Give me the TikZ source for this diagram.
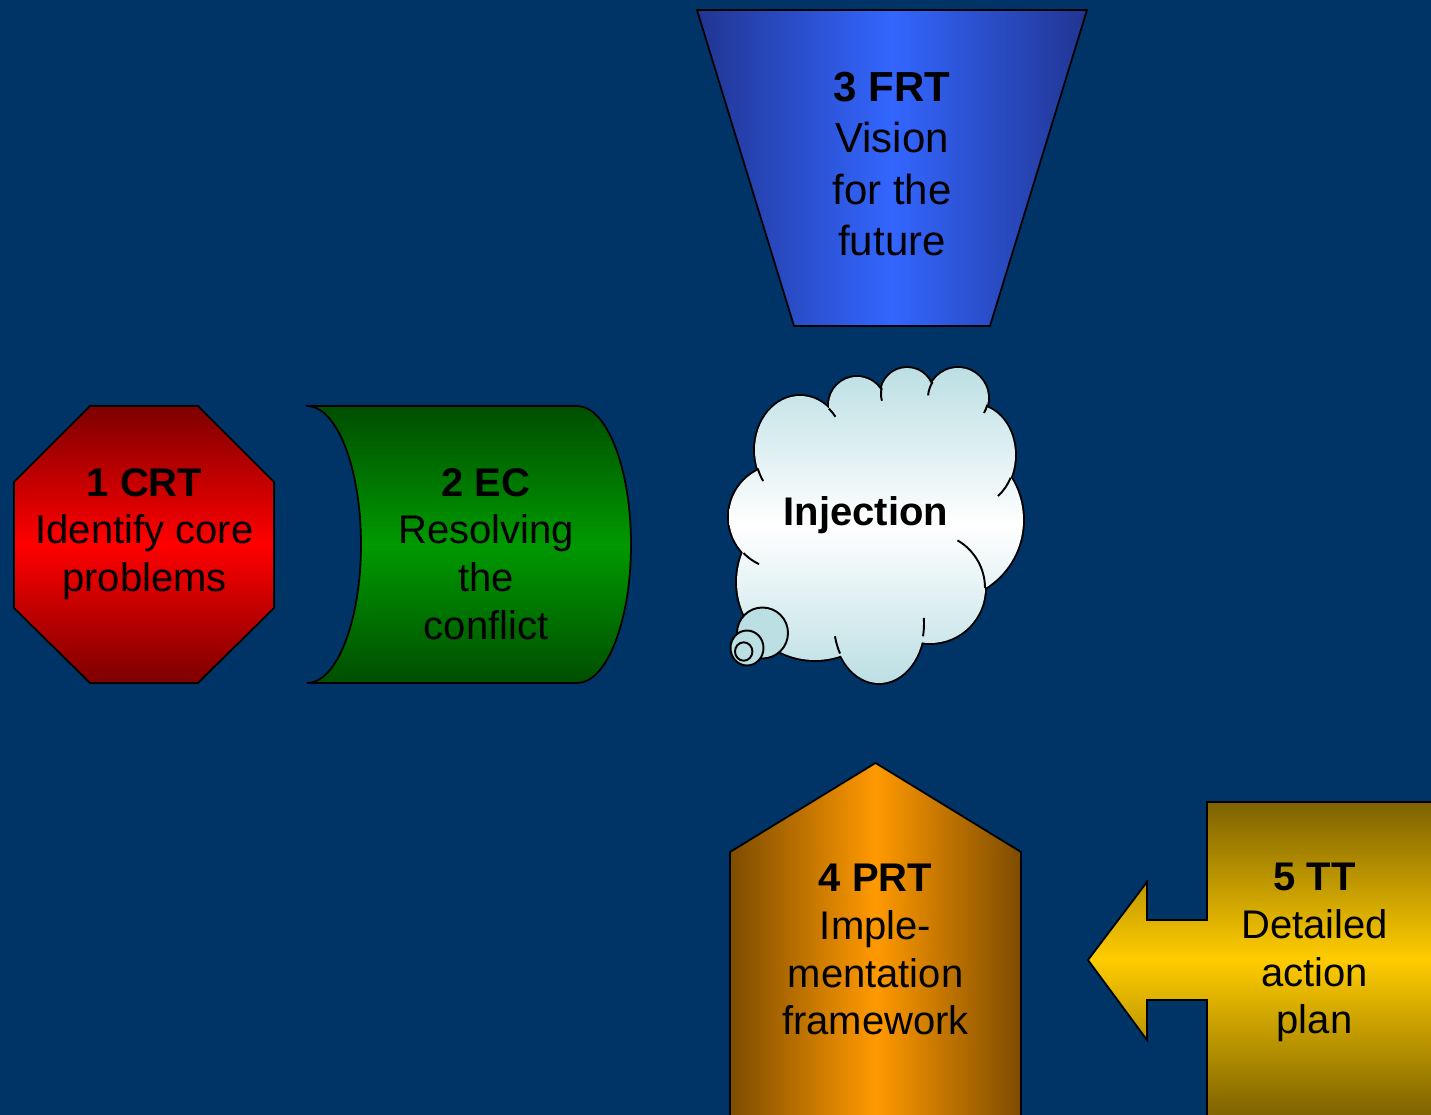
\documentclass[tikz,border=0pt]{standalone}
\usepackage{fontspec}
\setmainfont{Liberation Sans}
\usepackage{tikz}
\usetikzlibrary{calc}

\definecolor{slidebg}{RGB}{0,51,102}
\definecolor{crtdark}{RGB}{125,0,0}
\definecolor{crtred}{RGB}{255,0,0}
\definecolor{ecdark}{RGB}{0,78,0}
\definecolor{ecgreen}{RGB}{0,153,0}
\definecolor{frtdark}{RGB}{33,53,145}
\definecolor{frtblue}{RGB}{51,102,255}
\definecolor{prtdark}{RGB}{125,76,0}
\definecolor{prtorange}{RGB}{255,153,0}
\definecolor{ttdark}{RGB}{125,98,0}
\definecolor{ttyellow}{RGB}{255,204,0}
\definecolor{cloudblue}{RGB}{188,223,228}

% lobes of the thought cloud (pixel units)
\def\cloudlobes{(781,517) circle[radius=52]
  (800,450) ellipse[x radius=45, y radius=54]
  (857,405) circle[radius=28]
  (907,394) circle[radius=26]
  (958,398) circle[radius=30]
  (975,455) ellipse[x radius=40, y radius=50]
  (943,520) circle[radius=80]
  (930,588) circle[radius=55]
  (879,624) ellipse[x radius=45, y radius=59]
  (815,582) circle[radius=78]
  (890,470) ellipse[x radius=90, y radius=75]}

\begin{document}
\begin{tikzpicture}[x=0.02cm, y=-0.02cm,
    shapeline/.style={draw=black, line width=1pt, line join=miter},
    boxtext/.style={font=\fontsize{22.76}{27.1}\selectfont, align=center,
      inner sep=0pt, anchor=north, text=black}]

    % Slide background
    \fill[slidebg] (0,0) rectangle (1431,1115);
    \useasboundingbox (0,0) rectangle (1431,1115);
    \clip (0,0) rectangle (1431,1115);

    % 1 CRT: octagon
    \shade[shapeline, top color=crtdark, bottom color=crtdark, middle color=crtred]
        (90,406) -- (198,406) -- (274,482) -- (274,608) -- (198,683)
        -- (90,683) -- (14,608) -- (14,482) -- cycle;
    \node[boxtext] (crt) at (144.5,468) {\textbf{1 CRT}\\Identify core\\problems};

    % 2 EC: stored data shape, concave on the left
    \shade[shapeline, top color=ecdark, bottom color=ecdark, middle color=ecgreen]
        (307,406) -- (577,406)
        arc[start angle=-90, end angle=90, x radius=54, y radius=138.5]
        -- (307,683)
        arc[start angle=90, end angle=-90, x radius=54, y radius=138.5]
        -- cycle;
    \node[boxtext] (ec) at (486,468) {\textbf{2 EC}\\Resolving\\the\\conflict};

    % 3 FRT: trapezoid
    \shade[shapeline, left color=frtdark, right color=frtdark, middle color=frtblue]
        (697,10) -- (1087,10) -- (990,326) -- (794,326) -- cycle;
    \node[boxtext, font=\fontsize{23.9}{29.2}\selectfont] (frt) at (892,72)
        {\textbf{3 FRT}\\Vision\\for the\\future};

    % Injection: cloud, outline drawn under the fill
    \draw[line width=2.2pt] \cloudlobes;
    \shade[top color=cloudblue, bottom color=cloudblue, middle color=white] \cloudlobes;
    % inner arcs of the lobes
    \draw[line width=1.1pt] (781,517) ++(136:52) arc[start angle=136, end angle=115, radius=52];
    \draw[line width=1.1pt] (800,450) ++({45*cos(-50)},{54*sin(-50)})
        arc[start angle=-50, end angle=-38, x radius=45, y radius=54];
    \draw[line width=1.1pt] (800,450) ++({45*cos(160)},{54*sin(160)})
        arc[start angle=160, end angle=145, x radius=45, y radius=54];
    \draw[line width=1.1pt] (907,394) ++(194:26) arc[start angle=194, end angle=165, radius=26];
    \draw[line width=1.1pt] (958,398) ++(212:30) arc[start angle=212, end angle=185, radius=30];
    \draw[line width=1.1pt] (958,398) ++(13:30) arc[start angle=13, end angle=30, radius=30];
    \draw[line width=1.1pt] (975,455) ++({40*cos(27)},{50*sin(27)})
        arc[start angle=27, end angle=55, x radius=40, y radius=50];
    \draw[line width=1.1pt] (930,588) ++(0:55) arc[start angle=0, end angle=-60, radius=55];
    \draw[line width=1.1pt] (879,624) ++({45*cos(12)},{59*sin(12)})
        arc[start angle=12, end angle=-6, x radius=45, y radius=59];
    \draw[line width=1.1pt] (879,624) ++({45*cos(150)},{59*sin(150)})
        arc[start angle=150, end angle=168, x radius=45, y radius=59];
    % thought bubbles
    \filldraw[fill=cloudblue, line width=1.1pt] (762.5,633) circle[radius=25.5];
    \filldraw[fill=cloudblue, line width=1.1pt] (747,648) ellipse[x radius=16.5, y radius=17.5];
    \filldraw[fill=cloudblue, line width=1.1pt] (743.7,651.5) ellipse[x radius=8.7, y radius=9.2];
    \node[boxtext, anchor=base] (inj) at (866,525) {\textbf{Injection}};

    % 4 PRT: pentagon arrow pointing up
    \shade[shapeline, left color=prtdark, right color=prtdark, middle color=prtorange]
        (730,1125) -- (730,852) -- (875.5,763) -- (1021,852) -- (1021,1125) -- cycle;
    \node[boxtext] (prt) at (875.5,864) {\textbf{4 PRT}\\Imple-\\mentation\\framework};

    % 5 TT: callout arrow pointing left
    \shade[shapeline, top color=ttdark, bottom color=ttdark, middle color=ttyellow]
        (1445,802) -- (1207,802) -- (1207,920) -- (1147,920) -- (1147,882)
        -- (1088,960) -- (1147,1040) -- (1147,1000) -- (1207,1000)
        -- (1207,1116) -- (1445,1116) -- cycle;
    \node[boxtext] (tt) at (1314.5,863) {\textbf{5 TT}\\Detailed\\action\\plan};

\end{tikzpicture}
\end{document}
